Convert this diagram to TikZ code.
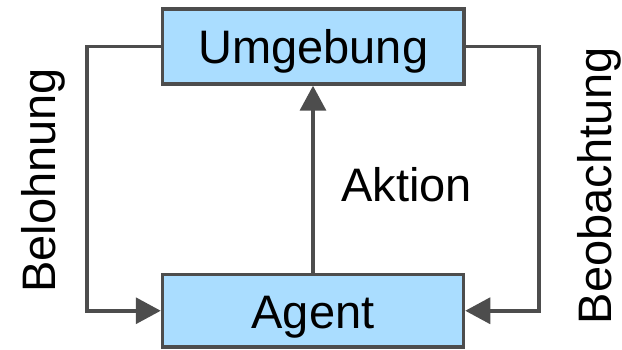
\documentclass[tikz,border=0pt]{standalone}
\usepackage{fontspec}
\setmainfont{Liberation Sans}
\usetikzlibrary{arrows.meta}
\definecolor{boxfill}{HTML}{AADDFF}
\definecolor{edgegray}{HTML}{4D4D4D}
\tikzset{
  bigtext/.style={font=\fontsize{47}{56}\selectfont},
  block/.style={draw=edgegray, fill=boxfill, line width=3.5pt, inner sep=0pt,
    bigtext, text height=35pt, text depth=0pt},
  arr/.style={draw=edgegray, line width=3.5pt,
    -{Triangle[length=25pt, width=26pt]}},
  sidelabel/.style={bigtext, rotate=90, anchor=base, inner sep=0pt},
}
\begin{document}
\begin{tikzpicture}[x=1pt, y=-1pt]
  \useasboundingbox (0,0) rectangle (622,350);

  % environment and agent
  \node[block, minimum width=301.5pt, minimum height=75pt] (env) at (313.25,46.5) {Umgebung};
  \node[block, minimum width=301pt, minimum height=72.5pt] (agent) at (313,310.75) {Agent};

  % corner columns of the feedback loops
  \coordinate (lc) at (87,0);
  \coordinate (rc) at (539,0);

  % reward loop (left)
  \draw[arr] (env.west) -- (env.west -| lc) -- (agent.west -| lc) -- (agent.west);
  % observation loop (right)
  \draw[arr] (env.east) -- (env.east -| rc) -- (agent.east -| rc) -- (agent.east);
  % action
  \draw[arr] (agent.north) -- (agent.north |- env.south);

  % labels
  \node[bigtext, anchor=base, inner sep=0pt] (act) at (406.5,202) {Aktion};
  \node[sidelabel] (rew) at (55,180.5) {Belohnung};
  \node[sidelabel] (obs) at (611,185.5) {Beobachtung};
\end{tikzpicture}
\end{document}
